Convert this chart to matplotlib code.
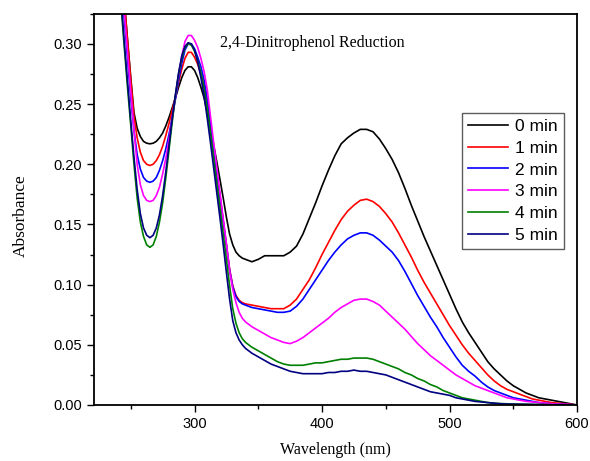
import matplotlib
matplotlib.use('Agg')
import matplotlib.pyplot as plt
import numpy as np
from matplotlib.ticker import MultipleLocator, FormatStrFormatter

plt.rcParams.update({'font.family': 'Liberation Sans', 'font.size': 10})

# wavelength grid: 2.5 nm steps up to 340, then 5 nm steps
wl = np.concatenate([np.arange(240, 341, 2.5), np.arange(345, 601, 5)])

a0 = [0.40, 0.37, 0.335, 0.303, 0.272, 0.243, 0.230, 0.223, 0.219, 0.2175,
      0.217, 0.2175, 0.219, 0.222, 0.226, 0.232, 0.239, 0.247, 0.255, 0.264,
      0.272, 0.278, 0.281, 0.281, 0.278, 0.272, 0.264, 0.255, 0.243, 0.230,
      0.216, 0.202, 0.187, 0.172, 0.156, 0.142, 0.133, 0.127, 0.124, 0.122,
      0.121, 0.119, 0.121, 0.124, 0.124, 0.124, 0.124, 0.127, 0.132, 0.142,
      0.155, 0.168, 0.182, 0.195, 0.207, 0.217, 0.222, 0.226, 0.229, 0.229,
      0.227, 0.221, 0.213, 0.204, 0.193, 0.180, 0.166, 0.153, 0.140, 0.128,
      0.116, 0.104, 0.092, 0.080, 0.069, 0.060, 0.052, 0.044, 0.036, 0.030,
      0.025, 0.020, 0.016, 0.013, 0.010, 0.008, 0.006, 0.005, 0.004, 0.003,
      0.002, 0.001, 0.0]
a1 = [0.40, 0.37, 0.335, 0.302, 0.270, 0.240, 0.222, 0.210, 0.203, 0.200,
      0.199, 0.200, 0.203, 0.208, 0.215, 0.224, 0.234, 0.245, 0.256, 0.268,
      0.279, 0.288, 0.293, 0.293, 0.289, 0.283, 0.275, 0.266, 0.252, 0.233,
      0.213, 0.193, 0.173, 0.153, 0.133, 0.113, 0.099, 0.091, 0.087, 0.085,
      0.084, 0.083, 0.082, 0.081, 0.080, 0.080, 0.080, 0.083, 0.088, 0.096,
      0.104, 0.114, 0.125, 0.135, 0.145, 0.154, 0.161, 0.166, 0.170, 0.171,
      0.169, 0.165, 0.159, 0.152, 0.143, 0.133, 0.123, 0.112, 0.102, 0.093,
      0.084, 0.075, 0.066, 0.058, 0.050, 0.043, 0.037, 0.031, 0.025, 0.020,
      0.016, 0.013, 0.011, 0.009, 0.007, 0.005, 0.004, 0.003, 0.002, 0.0015,
      0.001, 0.0005, 0.0]
a2 = [0.40, 0.355, 0.320, 0.287, 0.255, 0.228, 0.208, 0.196, 0.189, 0.186,
      0.185, 0.186, 0.189, 0.195, 0.203, 0.213, 0.225, 0.239, 0.254, 0.270,
      0.284, 0.295, 0.300, 0.300, 0.296, 0.289, 0.281, 0.270, 0.254, 0.234,
      0.213, 0.193, 0.173, 0.153, 0.133, 0.112, 0.098, 0.090, 0.086, 0.084,
      0.083, 0.081, 0.080, 0.079, 0.078, 0.077, 0.077, 0.078, 0.082, 0.088,
      0.096, 0.104, 0.112, 0.120, 0.127, 0.133, 0.138, 0.141, 0.143, 0.143,
      0.141, 0.137, 0.132, 0.127, 0.120, 0.111, 0.101, 0.091, 0.082, 0.073,
      0.065, 0.056, 0.048, 0.040, 0.033, 0.028, 0.024, 0.019, 0.015, 0.012,
      0.010, 0.008, 0.006, 0.005, 0.004, 0.003, 0.002, 0.0015, 0.001, 0.0008,
      0.0005, 0.0003, 0.0]
a3 = [0.40, 0.36, 0.325, 0.292, 0.260, 0.228, 0.200, 0.183, 0.174, 0.170,
      0.169, 0.170, 0.174, 0.181, 0.192, 0.205, 0.221, 0.238, 0.256, 0.274,
      0.290, 0.302, 0.307, 0.307, 0.303, 0.297, 0.288, 0.277, 0.262, 0.240,
      0.218, 0.197, 0.176, 0.155, 0.134, 0.112, 0.096, 0.085, 0.077, 0.072,
      0.069, 0.065, 0.062, 0.059, 0.056, 0.054, 0.052, 0.051, 0.053, 0.056,
      0.060, 0.064, 0.068, 0.072, 0.077, 0.081, 0.084, 0.087, 0.088, 0.088,
      0.086, 0.083, 0.078, 0.073, 0.068, 0.063, 0.057, 0.051, 0.046, 0.041,
      0.037, 0.033, 0.029, 0.025, 0.022, 0.019, 0.016, 0.014, 0.012, 0.010,
      0.008, 0.006, 0.005, 0.004, 0.003, 0.0025, 0.002, 0.0015, 0.001, 0.0008,
      0.0005, 0.0003, 0.0]
a4 = [0.37, 0.33, 0.296, 0.263, 0.232, 0.200, 0.172, 0.152, 0.140, 0.133,
      0.131, 0.133, 0.140, 0.152, 0.168, 0.189, 0.212, 0.235, 0.257, 0.275,
      0.288, 0.297, 0.300, 0.299, 0.294, 0.286, 0.276, 0.263, 0.246, 0.226,
      0.205, 0.184, 0.163, 0.142, 0.121, 0.099, 0.080, 0.068, 0.060, 0.055,
      0.052, 0.048, 0.045, 0.042, 0.039, 0.036, 0.034, 0.033, 0.033, 0.033,
      0.034, 0.035, 0.035, 0.036, 0.037, 0.038, 0.038, 0.039, 0.039, 0.039,
      0.038, 0.036, 0.034, 0.032, 0.030, 0.027, 0.025, 0.022, 0.020, 0.017,
      0.015, 0.012, 0.010, 0.008, 0.006, 0.005, 0.004, 0.003, 0.002, 0.0015,
      0.0012, 0.001, 0.0008, 0.0007, 0.0006, 0.0005, 0.0004, 0.0003, 0.0002, 0.0002,
      0.0001, 0.0001, 0.0]
a5 = [0.38, 0.335, 0.300, 0.268, 0.236, 0.206, 0.179, 0.159, 0.147, 0.141,
      0.139, 0.141, 0.147, 0.158, 0.174, 0.194, 0.216, 0.238, 0.258, 0.276,
      0.290, 0.298, 0.301, 0.300, 0.295, 0.285, 0.272, 0.257, 0.238, 0.218,
      0.197, 0.176, 0.155, 0.133, 0.110, 0.088, 0.070, 0.060, 0.054, 0.050,
      0.047, 0.043, 0.040, 0.037, 0.034, 0.032, 0.030, 0.028, 0.027, 0.026,
      0.026, 0.026, 0.026, 0.027, 0.027, 0.028, 0.028, 0.029, 0.028, 0.028,
      0.027, 0.026, 0.025, 0.023, 0.021, 0.019, 0.017, 0.015, 0.013, 0.011,
      0.010, 0.009, 0.008, 0.006, 0.005, 0.004, 0.003, 0.0025, 0.002, 0.0015,
      0.001, 0.0008, 0.0007, 0.0006, 0.0005, 0.0004, 0.0003, 0.0003, 0.0002, 0.0002,
      0.0001, 0.0001, 0.0]

labels = ['0 min', '1 min', '2 min', '3 min', '4 min', '5 min']
colors = ['black', '#ff0000', '#0000ff', '#ff00ff', '#008000', '#000080']

fig = plt.figure(figsize=(5.9, 4.61), dpi=100)
ax = fig.add_axes([0.159, 0.1215, 0.819, 0.8485])

for y, lab, c in zip([a0, a1, a2, a3, a4, a5], labels, colors):
    ax.plot(wl, y, color=c, lw=1.2, label=lab)

ax.set_xlim(221, 600)
ax.set_ylim(0, 0.325)
ax.xaxis.set_major_locator(MultipleLocator(100))
ax.xaxis.set_minor_locator(MultipleLocator(50))
ax.yaxis.set_major_locator(MultipleLocator(0.05))
ax.yaxis.set_minor_locator(MultipleLocator(0.025))
ax.yaxis.set_major_formatter(FormatStrFormatter('%.2f'))
ax.tick_params(which='major', direction='out', length=5, width=1, labelsize=10.5,
               top=False, right=False)
ax.tick_params(which='minor', direction='out', length=3, width=1,
               top=False, right=False)
for s in ax.spines.values():
    s.set_linewidth(1.3)

ax.set_xlabel('Wavelength (nm)', family='Liberation Serif', fontsize=11.5)
ax.set_ylabel('Absorbance', family='Liberation Serif', fontsize=12.5)
ax.xaxis.set_label_coords(0.5, -0.095)
ax.yaxis.set_label_coords(-0.135, 0.485)
ax.text(0.261, 0.925, '2,4-Dinitrophenol Reduction', transform=ax.transAxes,
        family='Liberation Serif', fontsize=11.5, va='center')

ax.legend(loc='upper right', bbox_to_anchor=(0.973, 0.747), fontsize=12.5, frameon=True,
          fancybox=False, edgecolor='#333333', handlelength=2.3, handletextpad=0.4,
          labelspacing=0.38, borderpad=0.35, borderaxespad=0)

plt.savefig('out.png', dpi=100)
plt.close()
